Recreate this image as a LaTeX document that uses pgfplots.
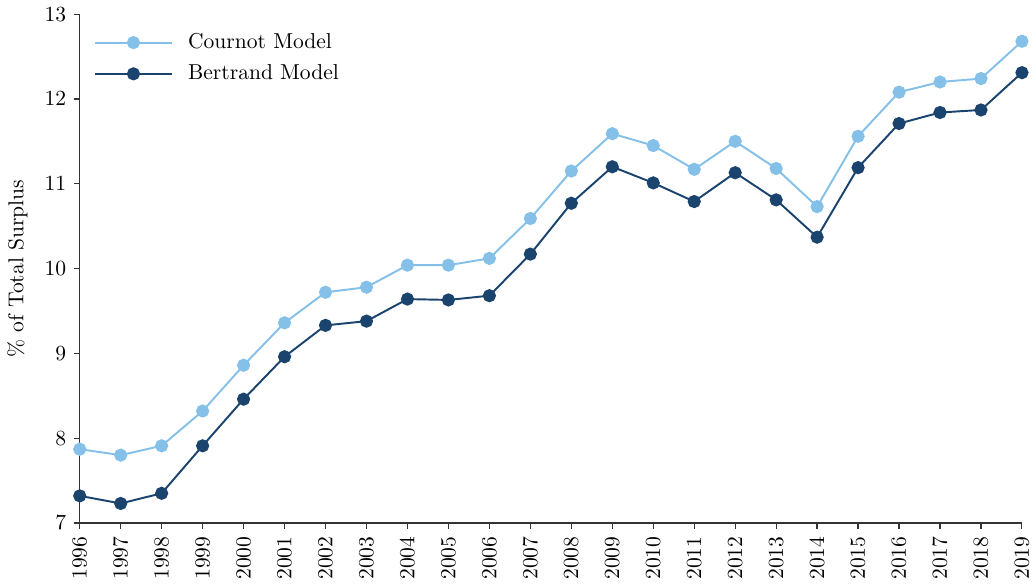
\documentclass[border=0pt]{standalone}
\usepackage{pgfplots}
\pgfplotsset{compat=1.18}
\definecolor{cournot}{RGB}{133,192,233}
\definecolor{bertrand}{RGB}{26,67,110}
\begin{document}
\begin{tikzpicture}
\begin{axis}[
  scale only axis,
  width=437pt, height=236pt,
  xmin=1996, xmax=2019, ymin=7, ymax=13,
  axis lines=left,
  axis line style={-, draw=black!80, line width=0.55pt},
  xtick={1996,...,2019},
  ytick={7,...,13},
  xticklabel style={rotate=90, anchor=east, /pgf/number format/1000 sep={}},
  x tick label style={/pgf/number format/1000 sep={}},
  tick align=outside,
  tick style={draw=black!80, line width=0.55pt},
  major tick length=2.8pt,
  ylabel={\% of Total Surplus},
  ylabel style={yshift=1pt},
  clip=false,
  legend style={at={(axis description cs:0.008,0.98)}, anchor=north west, draw=none, fill=none, row sep=2pt, font=\normalsize},
  legend cell align=left,
  legend image code/.code={\draw[#1] (0cm,0cm) -- (1.25cm,0cm); \draw[#1, only marks] plot coordinates {(0.625cm,0cm)}; \path (1.43cm,0cm);},
]
\addplot[color=cournot, line width=0.9pt, mark=*, mark size=2.6pt, mark options={fill=cournot, draw=cournot}] coordinates {
(1996,7.87) (1997,7.80) (1998,7.91) (1999,8.32) (2000,8.86) (2001,9.36) (2002,9.72) (2003,9.78) (2004,10.04) (2005,10.04) (2006,10.12) (2007,10.59) (2008,11.15) (2009,11.59) (2010,11.45) (2011,11.17) (2012,11.50) (2013,11.18) (2014,10.73) (2015,11.56) (2016,12.08) (2017,12.20) (2018,12.24) (2019,12.68)};
\addlegendentry{Cournot Model}
\addplot[color=bertrand, line width=0.9pt, mark=*, mark size=2.6pt, mark options={fill=bertrand, draw=bertrand}] coordinates {
(1996,7.32) (1997,7.23) (1998,7.35) (1999,7.91) (2000,8.46) (2001,8.96) (2002,9.33) (2003,9.38) (2004,9.64) (2005,9.63) (2006,9.68) (2007,10.17) (2008,10.77) (2009,11.20) (2010,11.01) (2011,10.79) (2012,11.13) (2013,10.81) (2014,10.37) (2015,11.19) (2016,11.71) (2017,11.84) (2018,11.87) (2019,12.31)};
\addlegendentry{Bertrand Model}
\end{axis}
\end{tikzpicture}
\end{document}
